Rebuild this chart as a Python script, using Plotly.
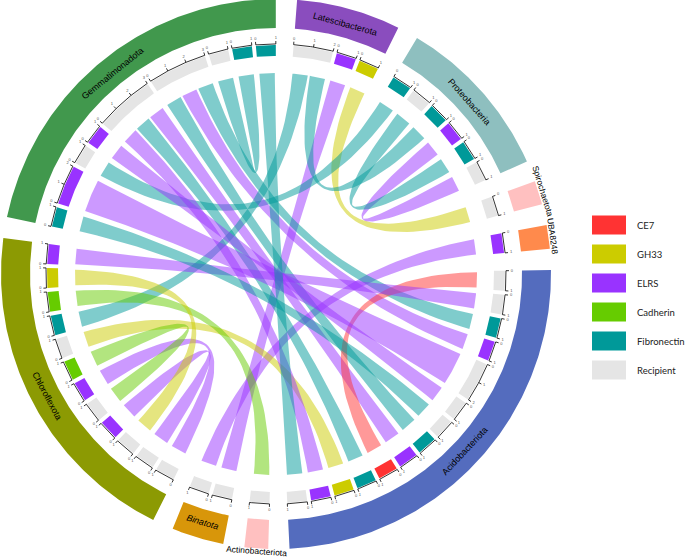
import numpy as np
import plotly.graph_objects as go

# ---------------- data ----------------
sector_names = ["Latescibacterota", "Proteobacteria", "Spirochaetota", "UBA8248",
                "Acidobacteriota", "Actinobacteriota", "Binatota", "Chloroflexota",
                "Gemmatimonadota"]
sector_colors = ["#8A4DBE", "#8EBFBF", "#FFC0C0", "#FF8A4C",
                 "#546CBE", "#FFC0C0", "#D8960A", "#8C9A03", "#41984D"]
sector_prefix = ["L", "P", "S", "U", "A", "T", "B", "C", "G"]

type_names = ["CE7", "GH33", "ELRS", "Cadherin", "Fibronectin", "Recipient"]
type_colors = ["#FF3333", "#CCCC00", "#9933FF", "#66CC00", "#009999", "#E5E5E5"]
type_code = {"C": "CE7", "G": "GH33", "E": "ELRS", "D": "Cadherin",
             "F": "Fibronectin", "R": "Recipient"}

# segments, clockwise from the top
seg_id = ["L_R", "L_E", "L_G",
          "P_F1", "P_R1", "P_F2", "P_E", "P_F3", "P_R2",
          "S_R",
          "U_E",
          "A_R1", "A_R2", "A_F1", "A_E1", "A_R3", "A_R4", "A_R5", "A_F2", "A_E2",
          "A_C", "A_F3", "A_G", "A_E3", "A_R6",
          "T_R",
          "B_R1", "B_R2",
          "C_R1", "C_R2", "C_R3", "C_E1", "C_R4", "C_E2", "C_D1", "C_R5", "C_F",
          "C_D2", "C_G", "C_E3",
          "G_F1", "G_E1", "G_R1", "G_E2", "G_R2", "G_R3", "G_R4", "G_F2", "G_F3"]

# links: source gene segment -> recipient segment
link_src = ["L_E", "L_G", "P_F1", "P_F2", "P_E", "P_F3", "U_E",
            "A_F1", "A_E1", "A_F2", "A_E2", "A_C", "A_F3", "A_G", "A_E3",
            "C_E1", "C_E2", "C_D1", "C_F", "C_D2", "C_G", "C_E3",
            "G_F1", "G_E1", "G_E2", "G_F2", "G_F3"]
link_dst = ["B_R1", "S_R", "G_R1", "L_R", "P_R2", "P_R1", "B_R2",
            "G_R3", "G_R3", "G_R3", "G_R2", "A_R1", "G_R2", "C_R5", "G_R2",
            "C_R2", "C_R1", "C_R4", "L_R", "T_R", "C_R3", "A_R2",
            "A_R5", "A_R3", "A_R4", "G_R4", "A_R6"]
link_val = [1, 1, 1, 1, 1, 1, 1,
            1, 1, 1, 1, 1, 1, 1, 1,
            1, 1, 1, 1, 1, 1, 1,
            1, 2, 1, 1, 1]

# ---------------- geometry ----------------
W, H = 685, 558
CX, CY = 276, 274
R_LINK = 201
R_TRK0, R_TRK1 = 218, 229
R_AX = 230
R_OUT0, R_OUT1 = 246, 275
UNIT = 5.0
SEG_GAP = 1.0
START = 4.4

seg_sector = [sector_prefix.index(s.split("_")[0]) for s in seg_id]
seg_type = [type_code[s.split("_")[1][0]] for s in seg_id]
seg_w = [0.0] * len(seg_id)
for s, d, v in zip(link_src, link_dst, link_val):
    seg_w[seg_id.index(s)] += v
    seg_w[seg_id.index(d)] += v

n_intra = sum(1 for i in range(1, len(seg_id)) if seg_sector[i] == seg_sector[i - 1])
SECT_GAP = (360 - sum(seg_w) * UNIT - n_intra * SEG_GAP) / len(sector_names)

seg_a0, seg_a1 = [], []
ang = START
for i in range(len(seg_id)):
    if i > 0:
        ang += SEG_GAP if seg_sector[i] == seg_sector[i - 1] else SECT_GAP
    seg_a0.append(ang)
    ang += seg_w[i] * UNIT
    seg_a1.append(ang)


def pol(r, a):
    t = np.radians(a)
    return r * np.sin(t), r * np.cos(t)


def arc(r, a0, a1, n=None):
    if n is None:
        n = max(4, int(abs(a1 - a0) * 2) + 2)
    t = np.linspace(a0, a1, n)
    return pol(r, t)


def band(r0, r1, a0, a1):
    xo, yo = arc(r1, a0, a1)
    xi, yi = arc(r0, a1, a0)
    return np.concatenate([xo, xi, xo[:1]]), np.concatenate([yo, yi, yo[:1]])


def rgba(hexc, a):
    h = hexc.lstrip("#")
    return "rgba(%d,%d,%d,%.2f)" % (int(h[0:2], 16), int(h[2:4], 16), int(h[4:6], 16), a)


fig = go.Figure()

# ---------------- link end allocation ----------------
mid = [(a + b) / 2 for a, b in zip(seg_a0, seg_a1)]
ends = {}
for seg in range(len(seg_id)):
    inc = []
    for k, (s, d) in enumerate(zip(link_src, link_dst)):
        if seg_id.index(s) == seg:
            inc.append((0, k))
        elif seg_id.index(d) == seg:
            other = seg_id.index(s)
            inc.append((((mid[other] - mid[seg]) % 360), k))
    inc.sort(key=lambda t: -t[0])
    a = seg_a0[seg]
    for _, k in inc:
        w = link_val[k] * UNIT
        ends[(k, seg)] = (a, a + w)
        a += w


def bez(p0, p2, s=0.03, n=48):
    c = s * (np.array(p0) + np.array(p2)) / 2
    t = np.linspace(0, 1, n)[:, None]
    pts = (1 - t) ** 2 * np.array(p0) + 2 * (1 - t) * t * c + t ** 2 * np.array(p2)
    return pts[:, 0], pts[:, 1]


SH = 0.3
for k, (s, d) in enumerate(zip(link_src, link_dst)):
    si, di = seg_id.index(s), seg_id.index(d)
    a1, a2 = ends[(k, si)]
    b1, b2 = ends[(k, di)]
    a1, a2, b1, b2 = a1 + SH, a2 - SH, b1 + SH, b2 - SH
    xa, ya = arc(R_LINK, a1, a2)
    xb, yb = arc(R_LINK, b1, b2)
    x1, y1 = bez(pol(R_LINK, a2), pol(R_LINK, b1))
    x2, y2 = bez(pol(R_LINK, b2), pol(R_LINK, a1))
    xs = np.concatenate([xa, x1, xb, x2])
    ys = np.concatenate([ya, y1, yb, y2])
    col = type_colors[type_names.index(seg_type[si])]
    fig.add_trace(go.Scatter(x=xs, y=ys, mode="lines", fill="toself",
                             fillcolor=rgba(col, 0.5), line=dict(width=0),
                             hoverinfo="skip", showlegend=False))

# ---------------- segment track ----------------
for i in range(len(seg_id)):
    x, y = band(R_TRK0, R_TRK1, seg_a0[i], seg_a1[i])
    fig.add_trace(go.Scatter(x=x, y=y, mode="lines", fill="toself",
                             fillcolor=type_colors[type_names.index(seg_type[i])],
                             line=dict(width=0), hoverinfo="skip", showlegend=False))

# axes with ticks
axx, axy, tlx, tly, tlt = [], [], [], [], []
for i in range(len(seg_id)):
    x, y = arc(R_AX, seg_a0[i], seg_a1[i])
    axx += list(x) + [None]
    axy += list(y) + [None]
    for kk in range(int(seg_w[i]) + 1):
        a = seg_a0[i] + kk * UNIT
        x0, y0 = pol(R_AX, a)
        x1, y1 = pol(R_AX + 3, a)
        axx += [x0, x1, None]
        axy += [y0, y1, None]
        lx, ly = pol(R_AX + 6, a)
        tlx.append(lx)
        tly.append(ly)
        tlt.append(str(kk))
fig.add_trace(go.Scatter(x=axx, y=axy, mode="lines", line=dict(color="black", width=0.8),
                         hoverinfo="skip", showlegend=False))
fig.add_trace(go.Scatter(x=tlx, y=tly, mode="text", text=tlt,
                         textfont=dict(size=4, color="#555555", family="Liberation Sans"),
                         hoverinfo="skip", showlegend=False))

# ---------------- outer sector band ----------------
annotations = []
outside_r = {"Spirochaetota": 279, "UBA8248": 279, "Actinobacteriota": 278}
for si, name in enumerate(sector_names):
    idx = [i for i in range(len(seg_id)) if seg_sector[i] == si]
    a0, a1 = seg_a0[idx[0]], seg_a1[idx[-1]]
    x, y = band(R_OUT0, R_OUT1, a0, a1)
    fig.add_trace(go.Scatter(x=x, y=y, mode="lines", fill="toself",
                             fillcolor=sector_colors[si], line=dict(width=0),
                             hoverinfo="skip", showlegend=False))
    am = (a0 + a1) / 2
    r = outside_r.get(name, 259)
    fs = 8.5 if name in outside_r else 9
    lx, ly = pol(r, am)
    rot = am if (am < 90 or am > 270) else am - 180
    if rot > 180:
        rot -= 360
    txt = "<i>%s</i>" % name if name == "Binatota" else name
    annotations.append(dict(x=lx, y=ly, xref="x", yref="y", text=txt, showarrow=False,
                            textangle=rot, xanchor="center", yanchor="middle",
                            font=dict(size=fs, color="black", family="Liberation Sans")))

# ---------------- legend ----------------
shapes = []
LEG_X0, LEG_X1 = 592 - CX, 626 - CX
for j, (nm, col) in enumerate(zip(type_names, type_colors)):
    yc = CY - (225 + j * 29)
    shapes.append(dict(type="rect", xref="x", yref="y", x0=LEG_X0, x1=LEG_X1,
                       y0=yc - 9.5, y1=yc + 9.5, fillcolor=col, line=dict(width=0)))
    annotations.append(dict(x=635 - CX, y=yc, xref="x", yref="y", text=nm, showarrow=False,
                            xanchor="left", yanchor="middle",
                            font=dict(size=9.5, color="#222222", family="Lato")))

fig.update_layout(width=W, height=H, margin=dict(l=0, r=0, t=0, b=0),
                  paper_bgcolor="white", plot_bgcolor="white",
                  xaxis=dict(range=[-CX, W - CX], visible=False, fixedrange=True),
                  yaxis=dict(range=[CY - H, CY], visible=False, fixedrange=True),
                  shapes=shapes, annotations=annotations, showlegend=False)
fig.write_html("out.html", config={"displayModeBar": False},
               post_script="document.body.style.margin='0';document.body.style.overflow='hidden';")
